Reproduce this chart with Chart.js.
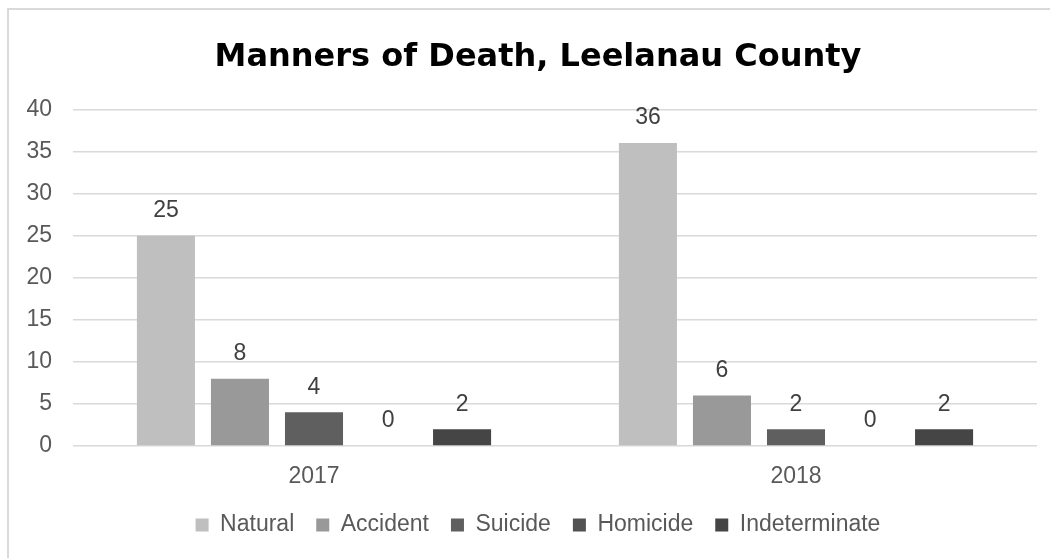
<!DOCTYPE html>
<html>
<head>
<meta charset="utf-8">
<script src="https://cdn.jsdelivr.net/npm/chart.js@4"></script>
<style>
  html, body { margin: 0; padding: 0; background: #fff; overflow: hidden; }
  #wrap { position: relative; width: 1050px; height: 558px; }
  #frame { position: absolute; left: 7px; top: 8px; width: 1100px; height: 600px; border: 2px solid #d9d9d9; box-sizing: border-box; pointer-events: none; }
  canvas { position: absolute; left: 0; top: 0; }
</style>
</head>
<body>
<div id="wrap">
  <div id="frame"></div>
  <canvas id="c" width="1050" height="558"></canvas>
</div>
<script>
const categories = ["2017", "2018"];
const seriesNames = ["Natural", "Accident", "Suicide", "Homicide", "Indeterminate"];
const natural = [25, 36];
const accident = [8, 6];
const suicide = [4, 2];
const homicide = [0, 0];
const indeterminate = [2, 2];
const seriesColors = ["#bfbfbf", "#999999", "#5f5f5f", "#525252", "#454545"];
const yTicks = [0, 5, 10, 15, 20, 25, 30, 35, 40];

const seriesValues = [natural, accident, suicide, homicide, indeterminate];

const valueLabels = {
  id: 'valueLabels',
  afterDatasetsDraw(chart) {
    const ctx = chart.ctx;
    ctx.save();
    ctx.font = '23px "Liberation Sans", Arial, sans-serif';
    ctx.fillStyle = '#404040';
    ctx.textAlign = 'center';
    ctx.textBaseline = 'middle';
    chart.data.datasets.forEach((ds, i) => {
      const meta = chart.getDatasetMeta(i);
      meta.data.forEach((bar, j) => {
        ctx.fillText(String(ds.data[j]), bar.x, bar.y - 25);
      });
    });
    ctx.restore();
  }
};

new Chart(document.getElementById('c'), {
  type: 'bar',
  data: {
    labels: categories,
    datasets: seriesNames.map((n, i) => ({
      label: n,
      data: seriesValues[i],
      backgroundColor: seriesColors[i],
      borderWidth: 0,
      categoryPercentage: 0.768,
      barPercentage: 0.784
    }))
  },
  options: {
    responsive: false,
    animation: false,
    layout: { padding: { left: 20, right: -6, top: 0, bottom: 11.5 } },
    plugins: {
      title: {
        display: true,
        text: 'Manners of Death, Leelanau County',
        color: '#000000',
        font: { family: '"DejaVu Sans", sans-serif', size: 32, weight: 'bold' },
        padding: { top: 38, bottom: 33 }
      },
      legend: {
        position: 'bottom',
        labels: {
          color: '#595959',
          font: { family: '"Liberation Sans", Arial, sans-serif', size: 23 },
          boxWidth: 13,
          boxHeight: 13,
          padding: 22
        }
      },
      tooltip: { enabled: false }
    },
    scales: {
      x: {
        grid: { display: false, drawTicks: false },
        border: { display: false },
        afterFit(scale) { scale.height = 45.5; },
        ticks: {
          color: '#595959',
          font: { family: '"Liberation Sans", Arial, sans-serif', size: 23 },
          padding: 17
        }
      },
      y: {
        min: 0,
        max: 40,
        afterBuildTicks(scale) { scale.ticks = yTicks.map(v => ({ value: v })); },
        afterFit(scale) { scale.width = 53; },
        grid: { color: '#d9d9d9', lineWidth: 1.5, drawTicks: false },
        border: { display: false },
        ticks: {
          color: '#595959',
          font: { family: '"Liberation Sans", Arial, sans-serif', size: 23 },
          padding: 21
        }
      },
      yRight: {
        position: 'right',
        display: true,
        grid: { display: false, drawTicks: false },
        border: { display: false },
        ticks: { display: false },
        afterFit(scale) { scale.width = 19; }
      }
    }
  },
  plugins: [valueLabels]
});
</script>
</body>
</html>
